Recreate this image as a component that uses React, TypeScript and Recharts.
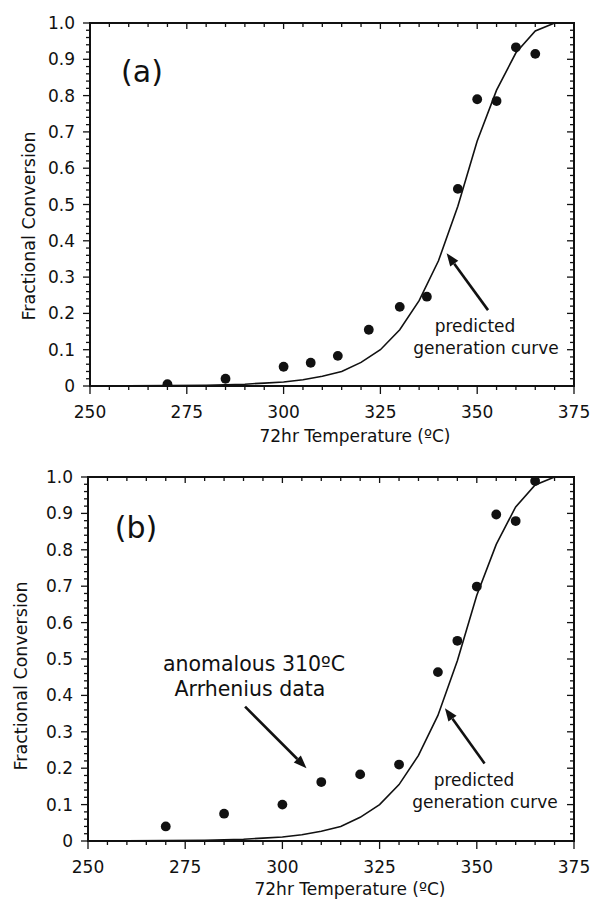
import React from "react";
import {
  ComposedChart,
  Line,
  Scatter,
  XAxis,
  YAxis,
  ReferenceLine,
  ReferenceArea,
} from "recharts";

// predicted generation curve (shared by both panels)
const curveTemps = [250, 260, 270, 280, 290, 295, 300, 305, 310, 315, 320, 325, 330, 335, 340, 345, 350, 355, 360, 365, 370, 375];
const curveValues = [0, 0.0005, 0.001, 0.002, 0.005, 0.008, 0.011, 0.017, 0.027, 0.04, 0.065, 0.1, 0.155, 0.235, 0.345, 0.495, 0.675, 0.815, 0.918, 0.978, 1.0, 1.0];

// panel (a) measured points
const tempsA = [270, 285, 300, 307, 314, 322, 330, 337, 345, 350, 355, 360, 365];
const convA = [0.005, 0.02, 0.053, 0.064, 0.083, 0.155, 0.218, 0.246, 0.543, 0.79, 0.785, 0.933, 0.915];

// panel (b) measured points
const tempsB = [270, 285, 300, 310, 320, 330, 340, 345, 350, 355, 360, 365];
const convB = [0.04, 0.075, 0.1, 0.162, 0.183, 0.21, 0.464, 0.55, 0.699, 0.897, 0.879, 0.989];

const xTicks = [250, 275, 300, 325, 350, 375];
const xMinorTicks = [250, 255, 260, 265, 270, 275, 280, 285, 290, 295, 300, 305, 310, 315, 320, 325, 330, 335, 340, 345, 350, 355, 360, 365, 370, 375];
const yMinorTicks = [
  0, 0.02, 0.04, 0.06, 0.08, 0.1, 0.12, 0.14, 0.16, 0.18, 0.2, 0.22, 0.24, 0.26, 0.28, 0.3, 0.32, 0.34, 0.36, 0.38,
  0.4, 0.42, 0.44, 0.46, 0.48, 0.5, 0.52, 0.54, 0.56, 0.58, 0.6, 0.62, 0.64, 0.66, 0.68, 0.7, 0.72, 0.74, 0.76, 0.78,
  0.8, 0.82, 0.84, 0.86, 0.88, 0.9, 0.92, 0.94, 0.96, 0.98, 1.0,
];

const xTitle = "72hr Temperature (ºC)";
const yTitle = "Fractional Conversion";

const curve = curveTemps.map((t, i) => ({ t, f: curveValues[i] }));
const pointsA = tempsA.map((t, i) => ({ t, f: convA[i] }));
const pointsB = tempsB.map((t, i) => ({ t, f: convB[i] }));

const INK = "#111";
const FONT = "DejaVu Sans, sans-serif";
const PLOT_RIGHT = 574;

const isMajorX = (v: number) => xTicks.includes(v);
const isMajorY = (v: number) => Math.abs(v * 10 - Math.round(v * 10)) < 1e-6;
const fmtY = (v: number) => (v === 0 ? "0" : v.toFixed(1));

// left ticks point outward, mirrored ticks on the right frame point inward
const LeftTick = (props: any) => {
  const { x, y, payload, plotRight } = props;
  const major = isMajorY(payload.value);
  const len = major ? 7 : 4;
  return (
    <g>
      <path d={`M${x - len},${y}H${x}`} stroke={INK} strokeWidth={1.3} fill="none" />
      <path d={`M${plotRight - len},${y}H${plotRight}`} stroke={INK} strokeWidth={1.3} fill="none" />
      {major && (
        <text x={x - 15} y={y} dy={6} textAnchor="end" fontSize={17} fontFamily={FONT} fill={INK}>
          {fmtY(payload.value)}
        </text>
      )}
    </g>
  );
};

// bottom ticks point outward, mirrored ticks on the top frame point inward
const BottomTick = (props: any) => {
  const { x, y, payload, plotTop } = props;
  const major = isMajorX(payload.value);
  return (
    <g>
      <path d={`M${x},${y}V${y + (major ? 8 : 4)}`} stroke={INK} strokeWidth={1.3} fill="none" />
      <path d={`M${x},${plotTop}V${plotTop + (major ? 6 : 4)}`} stroke={INK} strokeWidth={1.3} fill="none" />
      {major && (
        <text x={x} y={y + 32} textAnchor="middle" fontSize={17} fontFamily={FONT} fill={INK}>
          {payload.value}
        </text>
      )}
    </g>
  );
};

// arrow drawn from segment start (tail) to segment end (tip)
const Arrow = (props: any) => {
  const { x1, y1, x2, y2 } = props;
  const ang = Math.atan2(y2 - y1, x2 - x1);
  const len = 13;
  const half = 5;
  const bx = x2 - len * Math.cos(ang);
  const by = y2 - len * Math.sin(ang);
  const px = -Math.sin(ang) * half;
  const py = Math.cos(ang) * half;
  return (
    <g>
      <line x1={x1} y1={y1} x2={bx} y2={by} stroke={INK} strokeWidth={2.6} />
      <polygon points={`${x2},${y2} ${bx + px},${by + py} ${bx - px},${by - py}`} fill={INK} />
    </g>
  );
};

const Dot = (props: any) => <circle cx={props.cx} cy={props.cy} r={4.9} fill={INK} />;

interface PanelProps {
  points: { t: number; f: number }[];
  top: number;
  left: number;
  xAxisHeight: number;
  children?: React.ReactNode;
}

const Panel = ({ points, top, left, xAxisHeight, children }: PanelProps) => (
  <ComposedChart width={590} height={452} margin={{ top, right: 590 - PLOT_RIGHT, bottom: 0, left: 0 }}>
    <XAxis
      xAxisId="x"
      dataKey="t"
      type="number"
      domain={[250, 375]}
      allowDataOverflow
      ticks={xMinorTicks}
      interval={0}
      height={xAxisHeight}
      tickSize={0}
      tickMargin={0}
      tickLine={false}
      tick={<BottomTick plotTop={top} />}
      axisLine={{ stroke: INK, strokeWidth: 2 }}
    />
    <YAxis
      yAxisId="y"
      dataKey="f"
      type="number"
      domain={[0, 1]}
      allowDataOverflow
      ticks={yMinorTicks}
      interval={0}
      width={left}
      tickSize={0}
      tickMargin={0}
      tickLine={false}
      tick={<LeftTick plotRight={PLOT_RIGHT} />}
      axisLine={{ stroke: INK, strokeWidth: 2 }}
    />
    {/* plot frame */}
    <ReferenceArea
      xAxisId="x"
      yAxisId="y"
      x1={250}
      x2={375}
      y1={0}
      y2={1}
      fill="none"
      fillOpacity={0}
      stroke={INK}
      strokeWidth={2}
      strokeOpacity={1}
      ifOverflow="visible"
    />
    <Line
      xAxisId="x"
      yAxisId="y"
      data={curve}
      dataKey="f"
      type="linear"
      stroke={INK}
      strokeWidth={1.6}
      dot={false}
      isAnimationActive={false}
    />
    <Scatter xAxisId="x" yAxisId="y" data={points} dataKey="f" shape={<Dot />} isAnimationActive={false} />
    {children}
  </ComposedChart>
);

const textStyle = { fontFamily: FONT, fill: INK } as const;

export default function App() {
  return (
    <div style={{ position: "absolute", left: 0, top: 0, width: 590, height: 904, background: "#fff" }}>
      <Panel points={pointsA} top={23} left={90} xAxisHeight={66}>
        <ReferenceLine
          xAxisId="x"
          yAxisId="y"
          segment={[{ x: 352.8, y: 0.209 }, { x: 342.1, y: 0.366 }]}
          ifOverflow="visible"
          shape={<Arrow />}
        />
        <text x={142} y={82} textAnchor="middle" fontSize={30} {...textStyle}>(a)</text>
        <text x={475} y={332} textAnchor="middle" fontSize={17} {...textStyle}>predicted</text>
        <text x={486} y={354} textAnchor="middle" fontSize={17} {...textStyle}>generation curve</text>
        <text x={355} y={442} textAnchor="middle" fontSize={17} {...textStyle}>{xTitle}</text>
        <text x={35} y={226} transform="rotate(-90 35 226)" textAnchor="middle" fontSize={17.5} {...textStyle}>{yTitle}</text>
      </Panel>
      <Panel points={pointsB} top={25} left={88} xAxisHeight={63}>
        <ReferenceLine
          xAxisId="x"
          yAxisId="y"
          segment={[{ x: 352, y: 0.213 }, { x: 341.8, y: 0.365 }]}
          ifOverflow="visible"
          shape={<Arrow />}
        />
        <ReferenceLine
          xAxisId="x"
          yAxisId="y"
          segment={[{ x: 290.4, y: 0.369 }, { x: 306.2, y: 0.2 }]}
          ifOverflow="visible"
          shape={<Arrow />}
        />
        <text x={136} y={86} textAnchor="middle" fontSize={30} {...textStyle}>(b)</text>
        <text x={254} y={219} textAnchor="middle" fontSize={20.5} {...textStyle}>anomalous 310ºC</text>
        <text x={250} y={244} textAnchor="middle" fontSize={20.5} {...textStyle}>Arrhenius data</text>
        <text x={474} y={334} textAnchor="middle" fontSize={17} {...textStyle}>predicted</text>
        <text x={485} y={356} textAnchor="middle" fontSize={17} {...textStyle}>generation curve</text>
        <text x={350} y={443} textAnchor="middle" fontSize={17} {...textStyle}>{xTitle}</text>
        <text x={27} y={224} transform="rotate(-90 27 224)" textAnchor="middle" fontSize={17.5} {...textStyle}>{yTitle}</text>
      </Panel>
    </div>
  );
}
